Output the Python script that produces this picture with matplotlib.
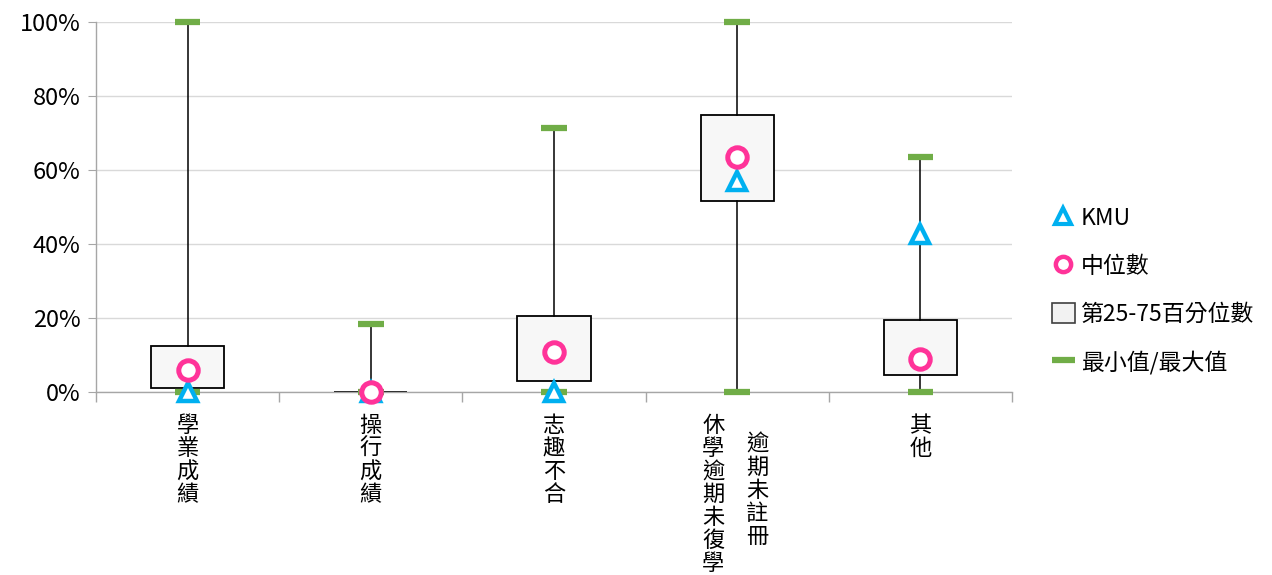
import matplotlib
matplotlib.use("Agg")
import matplotlib.pyplot as plt
from matplotlib.lines import Line2D
from matplotlib.patches import Patch
from matplotlib.ticker import PercentFormatter, FixedLocator

plt.rcParams['font.family'] = ['Noto Sans CJK TC', 'DejaVu Sans']

categories = ["學業成績", "操行成績", "志趣不合", "休學逾期未復學", "其他"]
q1 = [1.2, 0.0, 3.0, 51.5, 4.6]
q3 = [12.5, 0.0, 20.5, 75.0, 19.5]
median = [6.0, 0.0, 10.7, 63.4, 8.8]
kmu = [0.0, 0.0, 0.0, 57.0, 42.8]
vmin = [0.0, 0.0, 0.0, 0.0, 0.0]
vmax = [100.0, 18.3, 71.3, 100.0, 63.6]
extra_label = "逾期未註冊"  # second column for the 4th category

C_KMU = "#00B0F0"
C_MED = "#FF3399"
C_CAP = "#70AD47"
C_GRID = "#D9D9D9"
C_AXIS = "#A6A6A6"

fig = plt.figure(figsize=(12.72, 5.75), dpi=100)
ax = fig.add_axes([96 / 1272, 183 / 575, 916 / 1272, 370 / 575])

pos = list(range(len(categories)))
stats = [dict(med=m, q1=a, q3=b, whislo=lo, whishi=hi, fliers=[])
         for m, a, b, lo, hi in zip(median, q1, q3, vmin, vmax)]
parts = ax.bxp(stats, positions=pos, widths=0.40, capwidths=0.14,
               patch_artist=True, showfliers=False,
               boxprops=dict(facecolor="#F7F7F7", edgecolor="black",
                             linewidth=1.3),
               whiskerprops=dict(color="black", linewidth=1.1),
               capprops=dict(color=C_CAP, linewidth=4.5,
                             solid_capstyle="butt"),
               medianprops=dict(linewidth=0))
for c in parts["caps"]:
    c.set_clip_on(False)
    c.set_zorder(4)

ax.plot(pos, kmu, linestyle="none", marker="^", markersize=13,
        markerfacecolor="white", markeredgecolor=C_KMU, markeredgewidth=3.2,
        zorder=5, clip_on=False)
ax.plot(pos, median, linestyle="none", marker="o", markersize=14,
        markerfacecolor="white", markeredgecolor=C_MED, markeredgewidth=3.6,
        zorder=6, clip_on=False)

ax.set_xlim(-0.5, len(categories) - 0.5)
ax.set_ylim(0, 100)
ax.yaxis.set_major_locator(FixedLocator([0, 20, 40, 60, 80, 100]))
ax.yaxis.set_major_formatter(PercentFormatter(decimals=0))
ax.grid(axis="y", color=C_GRID, linewidth=1.0)
ax.set_axisbelow(True)
for s in ["top", "right"]:
    ax.spines[s].set_visible(False)
for s in ["left", "bottom"]:
    ax.spines[s].set_color(C_AXIS)
    ax.spines[s].set_linewidth(1.0)
ax.tick_params(axis="y", colors=C_AXIS, length=6, labelsize=17,
               labelcolor="black", pad=5)
ax.set_xticks(pos)
ax.set_xticklabels([])
ax.tick_params(axis="x", which="major", length=0)
ax.set_xticks([p - 0.5 for p in pos] + [pos[-1] + 0.5], minor=True)
ax.tick_params(axis="x", which="minor", length=7, colors=C_AXIS, width=1.0)

trans = ax.get_xaxis_transform()
for i, lab in enumerate(categories):
    x = i - 0.13 if i == 3 else i
    ax.text(x, -0.06, "\n".join(lab), transform=trans, ha="center", va="top",
            fontsize=16, linespacing=1.0)
ax.text(3 + 0.11, -0.11, "\n".join(extra_label), transform=trans,
        ha="center", va="top", fontsize=16, linespacing=1.0)

handles = [
    Line2D([], [], linestyle="none", marker="^", markersize=11,
           markerfacecolor="white", markeredgecolor=C_KMU, markeredgewidth=3),
    Line2D([], [], linestyle="none", marker="o", markersize=11,
           markerfacecolor="white", markeredgecolor=C_MED, markeredgewidth=3.2),
    Patch(facecolor="#F2F2F2", edgecolor="#404040", linewidth=1.2),
    Line2D([], [], color=C_CAP, linewidth=4.5, solid_capstyle="butt"),
]
labels = ["KMU", "中位數", "第25-75百分位數", "最小值/最大值"]
fig.legend(handles, labels, loc="upper left",
           bbox_to_anchor=(1052 / 1272, 1 - 207 / 575), frameon=False,
           fontsize=16.5, handlelength=1.0, handleheight=1.0,
           handletextpad=0.25, labelspacing=1.08, borderaxespad=0,
           borderpad=0)

fig.savefig("out.png", dpi=100)
